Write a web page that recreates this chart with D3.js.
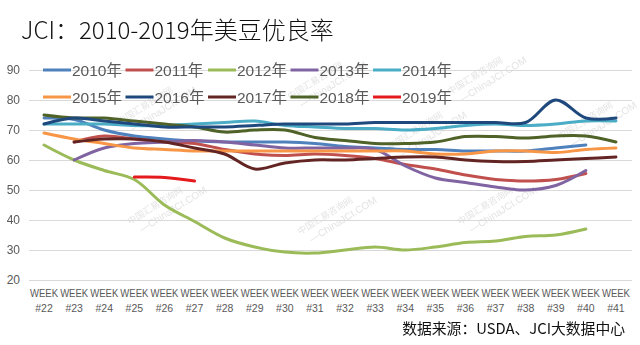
<!DOCTYPE html>
<html><head><meta charset="utf-8">
<script src="https://cdn.jsdelivr.net/npm/d3@7"></script>
<style>
html,body{margin:0;padding:0;background:#fff;}
svg{display:block;}
</style></head>
<body>
<script>
const title = "JCI：2010-2019年美豆优良率";
const source = "数据来源：USDA、JCI大数据中心";
const weeks = ["#22","#23","#24","#25","#26","#27","#28","#29","#30","#31","#32","#33","#34","#35","#36","#37","#38","#39","#40","#41"];
const yTicks = [20,30,40,50,60,70,80,90];
const seriesNames = ["2010年","2011年","2012年","2013年","2014年","2015年","2016年","2017年","2018年","2019年"];
// values by week #22..#41 (null = no data)
const s2010 = [74,73.5,70,68,67,66.3,66,66,66,65.5,64.5,64,63.5,63.5,63,63,63,64,65,null];
const s2011 = [null,66,68,67,66,65.5,63.5,62,61.5,62,61.5,60.5,58.5,57,55,53.5,53,53.5,55.5,null];
const s2012 = [65,60,56.5,53.5,45,39.5,34,31,29.3,29,30,31,30,31,32.5,33,34.5,35,37,null];
const s2013 = [null,60,64,65.5,66,66.5,66,65,64,64,64,63.5,58,54,52.5,51,50,51.5,56.5,null];
const s2014 = [72,72,72,71.5,71.5,72,72.5,73,71.5,71,70.5,70.5,70,70.5,71.5,72,71.5,72,73,73];
const s2015 = [69,67,65.5,64,63.5,63,63,63,63,63,63,63,63,62,62,63,63,62.5,63.5,64];
const s2016 = [72,74,73,72,71,71,71,71.5,72,72,72,72.5,72.5,72.5,72.5,72.5,72.5,80,74,74];
const s2017 = [null,66,67,67,66,64,62,57,59,60,60,60.5,61,61,60,59.5,59.5,60,60.5,61];
const s2018 = [75,74,74,73,72,71,69.3,70,70,67.5,66.5,65.5,65.5,66,67.8,67.8,67.3,68,68,66];
const s2019 = [null,null,null,54.3,54.2,53,null,null,null,null,null,null,null,null,null,null,null,null,null,null];
const seriesValues = [s2010,s2011,s2012,s2013,s2014,s2015,s2016,s2017,s2018,s2019];
const colors = ["#4F81BD","#C0504D","#9BBB59","#8064A2","#4BACC6","#F79646","#1F497D","#632523","#4F6228","#E41A1C"];

const W = 640, H = 345;
const svg = d3.select("body").append("svg").attr("width", W).attr("height", H);

const x = d3.scaleBand().domain(weeks).range([29, 631]);
const y = d3.scaleLinear().domain([20, 90]).range([280, 70]);
const cx = d => x(d) + x.bandwidth()/2;

// watermarks
const wm = svg.append("g").attr("fill", "#d0d0d0").attr("opacity", 0.6)
  .attr("font-family", "Noto Sans CJK SC, sans-serif").attr("font-size", 9);
[[120,125],[290,100],[450,95],[130,225],[300,235],[460,225],[560,140],[390,150]].forEach(p => {
  const g = wm.append("g").attr("transform", `translate(${p[0]},${p[1]}) rotate(-32)`);
  g.append("text").attr("x", 0).attr("y", 0).text("中国汇易咨询网");
  g.append("text").attr("x", 6).attr("y", 13).attr("font-family","Liberation Sans, sans-serif").attr("font-size", 10).text("—ChinaJCI.COM");
});

// y axis + grid
const yAxis = svg.append("g").attr("transform", "translate(29,0)")
  .call(d3.axisLeft(y).tickValues(yTicks).tickSize(-603).tickPadding(9));
yAxis.select(".domain").remove();
yAxis.selectAll(".tick line").attr("stroke", "#d9d9d9").attr("stroke-width", 1);
yAxis.selectAll(".tick text").attr("fill", "#595959").attr("font-size", 12)
  .attr("font-family", "Liberation Sans, Arial, sans-serif");

// x axis
const xAxis = svg.append("g").attr("transform", "translate(0,280)")
  .call(d3.axisBottom(x).tickSize(0).tickFormat(""));
xAxis.select(".domain").attr("stroke", "#d9d9d9");
xAxis.selectAll(".tick").each(function(d) {
  const t = d3.select(this);
  t.append("text").attr("y", 17).attr("fill", "#595959").attr("font-size", 10.5)
    .attr("font-family", "Liberation Sans, Arial, sans-serif").attr("text-anchor", "middle")
    .attr("textLength", 28).attr("lengthAdjust", "spacingAndGlyphs").text("WEEK");
  t.append("text").attr("y", 32).attr("fill", "#595959").attr("font-size", 10.5)
    .attr("font-family", "Liberation Sans, Arial, sans-serif").attr("text-anchor", "middle")
    .text(d);
});

// lines
const line = d3.line()
  .defined(d => d.v !== null)
  .x(d => cx(d.w)).y(d => y(d.v))
  .curve(d3.curveCatmullRom.alpha(0.5));
const order = [2,0,1,3,5,7,4,8,6,9];
order.forEach(i => {
  const pts = weeks.map((w, j) => ({w, v: seriesValues[i][j]}));
  svg.append("path").datum(pts).attr("fill", "none")
    .attr("stroke", colors[i]).attr("stroke-width", 3)
    .attr("stroke-linecap", "round").attr("stroke-linejoin", "round")
    .attr("d", line);
});

// legend
const leg = svg.append("g").attr("font-family", "Liberation Sans, Arial, 'Noto Sans CJK SC', sans-serif")
  .attr("font-size", 15.5).attr("fill", "#595959");
seriesNames.forEach((n, i) => {
  const row = Math.floor(i / 5), col = i % 5;
  const lx = 43 + col * 82.5, ly = 70 + row * 27;
  leg.append("line").attr("x1", lx).attr("x2", lx + 28).attr("y1", ly).attr("y2", ly)
    .attr("stroke", colors[i]).attr("stroke-width", 3);
  leg.append("text").attr("x", lx + 29).attr("y", ly + 5.5).text(n);
});

// title
svg.append("text").attr("x", 21).attr("y", 39).attr("font-size", 24).attr("font-weight", 300)
  .attr("font-family", "'Noto Sans CJK SC', sans-serif").attr("fill", "#111")
  .text(title);

// source
svg.append("text").attr("x", 625).attr("y", 334).attr("text-anchor", "end")
  .attr("font-size", 14.8).attr("font-family", "'Noto Sans CJK SC', sans-serif").attr("fill", "#111")
  .text(source);
</script>
</body></html>
